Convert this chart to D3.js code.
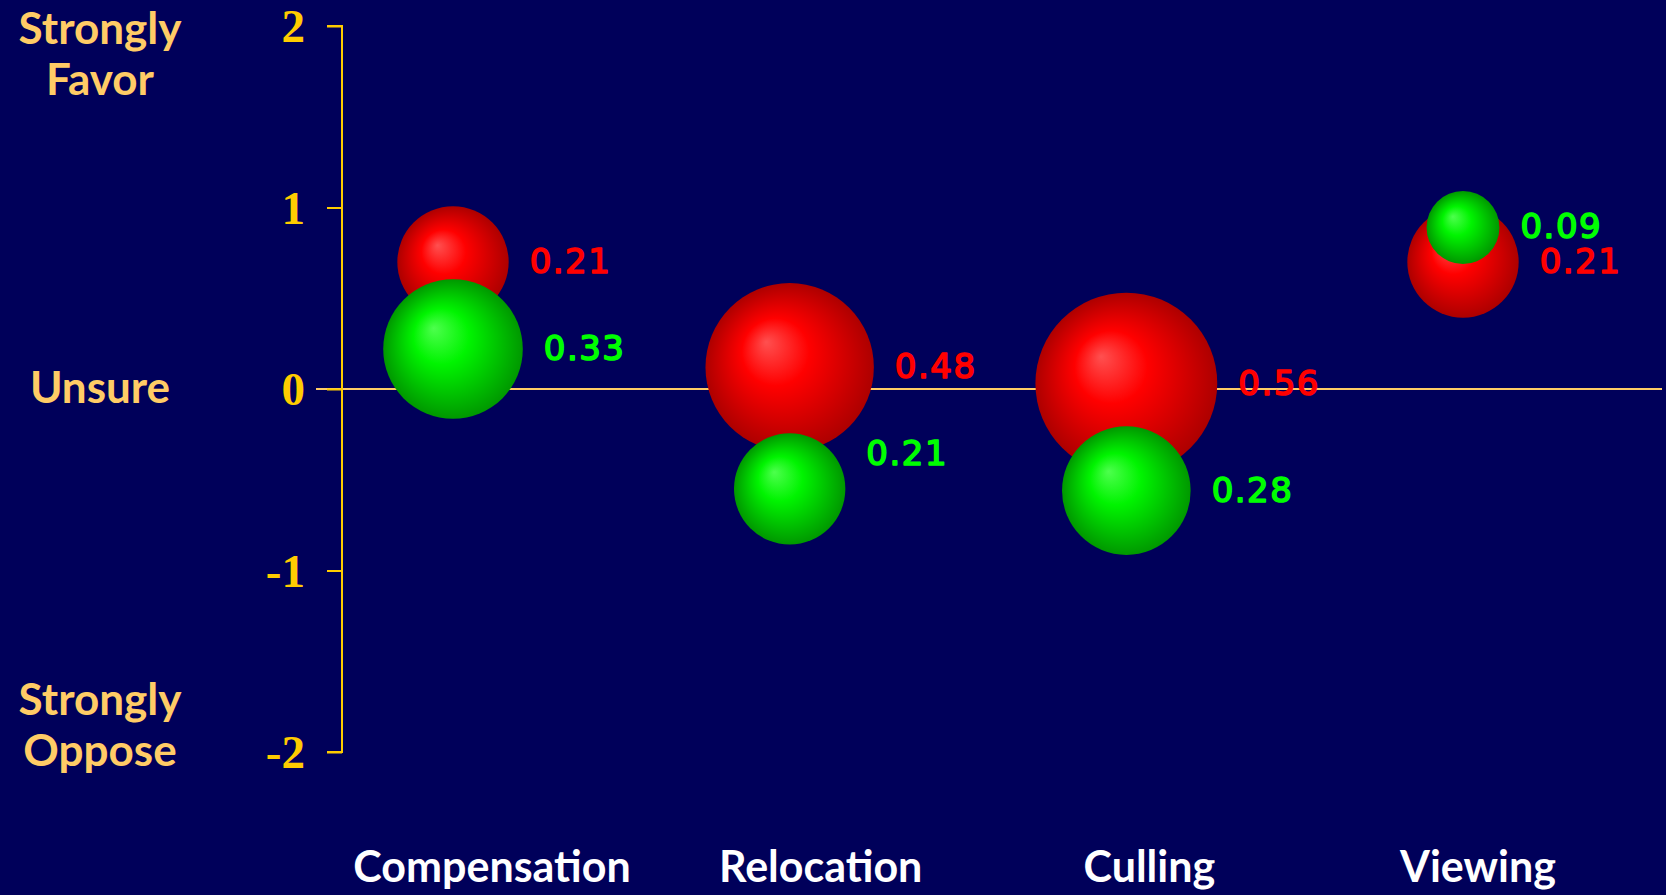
<!DOCTYPE html>
<html>
<head>
<meta charset="utf-8">
<script src="https://cdn.jsdelivr.net/npm/d3@7"></script>
<style>
  html, body { margin: 0; padding: 0; background: #00005a; }
  svg { display: block; }
</style>
</head>
<body>
<svg id="chart" width="1666" height="895"></svg>
<script>
// Policy options and survey results
const categories = ["Compensation", "Relocation", "Culling", "Viewing"];
const yTicks = [2, 1, 0, -1, -2];

// Red group: mean attitude and share of respondents
const redMeans  = [0.70, 0.12, 0.03, 0.70];
const redShares = [0.21, 0.48, 0.56, 0.21];

// Green group: mean attitude and share of respondents
const greenMeans  = [0.22, -0.55, -0.56, 0.89];
const greenShares = [0.33, 0.21, 0.28, 0.09];

// Verbal anchors of the attitude scale
const anchorValues = [2, 0, -2];
const anchorLines  = [["Strongly", "Favor"], ["Unsure"], ["Strongly", "Oppose"]];

const W = 1666, H = 895;
const svg = d3.select("#chart");
svg.append("rect").attr("width", W).attr("height", H).attr("fill", "#00005a");

const y = d3.scaleLinear().domain([-2, 2]).range([752, 26]);
const xBubble = d3.scalePoint().domain(categories).range([453, 1463]);
const xLabel  = d3.scalePoint().domain(categories).range([492, 1478]);
const r = d3.scaleSqrt().domain([0, 1]).range([0, 121.5]);

const defs = svg.append("defs");
function ball(id, hi, mid, edge) {
  const g = defs.append("radialGradient").attr("id", id)
    .attr("cx", "50%").attr("cy", "50%").attr("r", "50%")
    .attr("fx", "36%").attr("fy", "35%");
  g.append("stop").attr("offset", "0%").attr("stop-color", hi);
  g.append("stop").attr("offset", "40%").attr("stop-color", mid);
  g.append("stop").attr("offset", "100%").attr("stop-color", edge);
}
ball("redBall", "#ff5050", "#ff0000", "#ad0000");
ball("greenBall", "#4dff4d", "#00f400", "#009800");

// Zero ("Unsure") reference line
svg.append("line")
  .attr("x1", 316).attr("x2", 1662)
  .attr("y1", y(0)).attr("y2", y(0))
  .attr("stroke", "#ffcc66").attr("stroke-width", 2);

// Vertical axis
const axis = svg.append("g")
  .attr("transform", "translate(342,0)")
  .call(d3.axisLeft(y).tickValues(yTicks).tickSize(15).tickPadding(22).tickFormat(d => String(d)));
axis.select(".domain").attr("stroke", "#ffcc00").attr("stroke-width", 2).attr("d", `M-15,${y(2)}H0V${y(-2)}H-15`);
axis.selectAll(".tick line").attr("stroke", "#ffcc00").attr("stroke-width", 2);
axis.selectAll(".tick text")
  .attr("fill", "#ffcc00")
  .attr("font-family", "'Liberation Serif', 'Times New Roman', serif")
  .attr("font-weight", "bold")
  .attr("font-size", 47)
  .attr("dy", "0.33em");

// Verbal anchors left of the axis
const anchorFirstBaseline = [18, 13.5, -37];
anchorValues.forEach((v, i) => {
  const t = svg.append("text")
    .attr("x", 100)
    .attr("text-anchor", "middle")
    .attr("fill", "#ffcc66")
    .attr("font-family", "Lato, 'Open Sans', sans-serif")
    .attr("font-weight", "bold")
    .attr("font-size", 44);
  anchorLines[i].forEach((line, j) => {
    t.append("tspan").attr("x", 100)
      .attr("y", y(v) + anchorFirstBaseline[i] + j * 51)
      .text(line);
  });
});

// Bubbles
const series = [
  { key: "red",   means: redMeans,   shares: redShares,   fill: "url(#redBall)",   text: "#ff0000" },
  { key: "green", means: greenMeans, shares: greenShares, fill: "url(#greenBall)", text: "#00ff00" }
];
// vertical nudge for labels that would otherwise sit against a neighbouring ball
const labelNudge = { "green|Relocation": -35 };

series.forEach(s => {
  const pts = categories.map((c, i) => ({ c, mean: s.means[i], share: s.shares[i] }));
  const g = svg.append("g");
  g.selectAll("circle").data(pts).join("circle")
    .attr("cx", d => xBubble(d.c))
    .attr("cy", d => y(d.mean))
    .attr("r", d => r(d.share))
    .attr("fill", s.fill);
  g.selectAll("text").data(pts).join("text")
    .attr("x", d => xBubble(d.c) + r(d.share) + 21)
    .attr("y", d => y(d.mean) + 11 + (labelNudge[s.key + "|" + d.c] || 0))
    .attr("fill", s.text)
    .attr("stroke", s.text)
    .attr("stroke-width", 1.6)
    .attr("stroke-linejoin", "round")
    .attr("font-family", "'DejaVu Sans', sans-serif")
    .attr("font-size", 34)
    .attr("letter-spacing", 1.5)
    .text(d => d.share.toFixed(2));
});

// Category labels
svg.append("g").selectAll("text").data(categories).join("text")
  .attr("x", d => xLabel(d))
  .attr("y", 882)
  .attr("text-anchor", "middle")
  .attr("fill", "#ffffff")
  .attr("font-family", "Lato, 'Open Sans', sans-serif")
  .attr("font-weight", "bold")
  .attr("font-size", 43)
  .text(d => d);
</script>
</body>
</html>
